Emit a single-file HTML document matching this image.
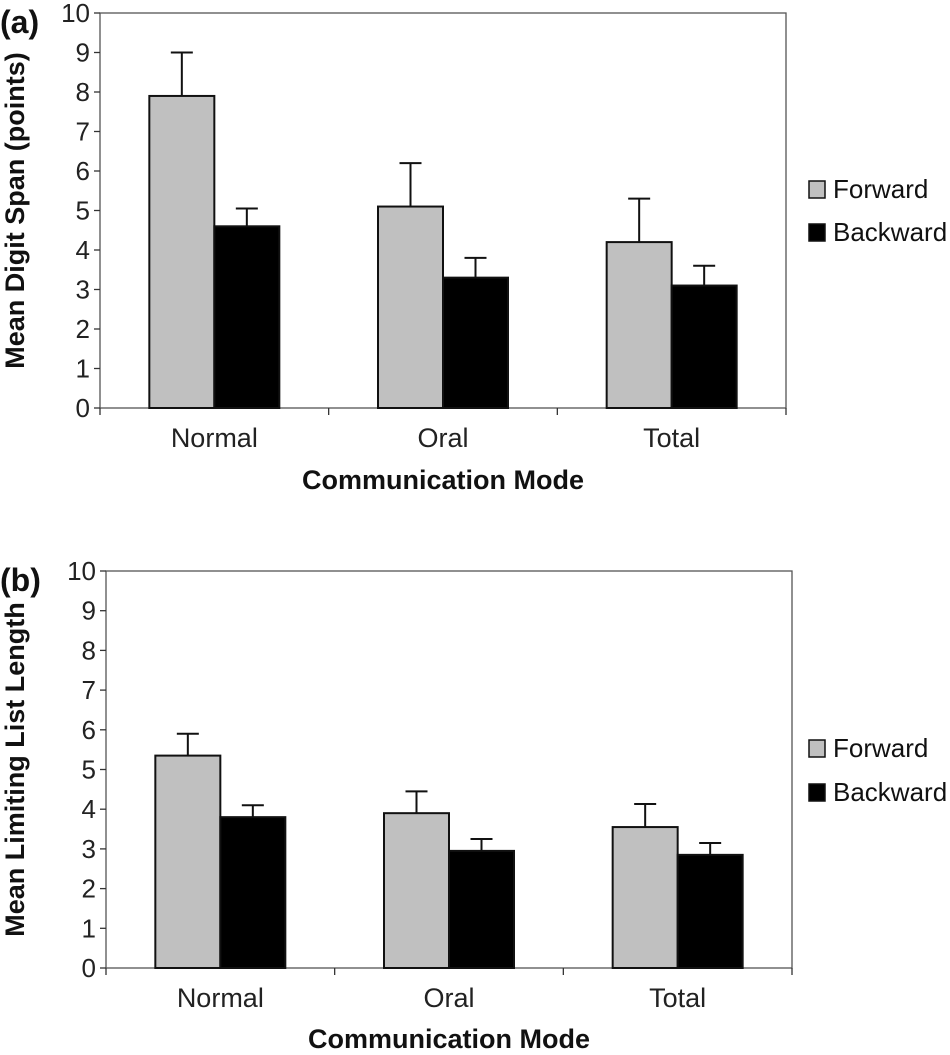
<!DOCTYPE html>
<html><head><meta charset="utf-8"><style>
body{margin:0;background:#fff;width:950px;height:1050px;overflow:hidden}
text{font-family:"Liberation Sans",Arial,sans-serif}
</style></head><body>
<svg id="svg" width="950" height="1050"></svg>
<script>
const categories=["Normal","Oral","Total"];
const seriesNames=["Forward","Backward"];
const aForward=[7.9,5.1,4.2];
const aForwardErr=[1.1,1.1,1.1];
const aBackward=[4.6,3.3,3.1];
const aBackwardErr=[0.45,0.5,0.5];
const bForward=[5.35,3.9,3.55];
const bForwardErr=[0.55,0.55,0.58];
const bBackward=[3.8,2.95,2.85];
const bBackwardErr=[0.3,0.3,0.3];
const yTicks=[0,1,2,3,4,5,6,7,8,9,10];

const NS="http://www.w3.org/2000/svg";
const svg=document.getElementById('svg');
function el(tag,attrs,parent,text){const e=document.createElementNS(NS,tag);for(const k in attrs)e.setAttribute(k,attrs[k]);if(text!==undefined)e.textContent=text;(parent||svg).appendChild(e);return e;}

function panel(p){
  const g=el('g',{});
  
  
  const yS=v=>p.y0-(v/10)*(p.y0-p.y10);
  const cw=(p.right-p.left)/categories.length;
  const xC=i=>p.left+cw*(i+0.5);
  const bw=65;
  const fr=el('rect',{x:p.left,y:p.y10,width:p.right-p.left,height:p.y0-p.y10,fill:'none',stroke:'#555','stroke-width':1.3},g);
  
  
  yTicks.forEach(t=>{
    const y=yS(t);
    el('line',{x1:p.left-6,x2:p.left,y1:y,y2:y,stroke:'#333','stroke-width':1.3},g);
    const tx=el('text',{x:p.left-10,y:y+9,'text-anchor':'end','font-size':26,fill:'#222'},g,t);
    
    
  });
  for(let i=0;i<=categories.length;i++){const x=p.left+cw*i;el('line',{x1:x,x2:x,y1:p.y0,y2:p.y0+7,stroke:'#333','stroke-width':1.3},g);}
  const series=[[p.f,p.fe,'#c0c0c0'],[p.b,p.be,'#000']];
  categories.forEach((c,i)=>{
    series.forEach((s,j)=>{
      const v=s[0][i],e=s[1][i];
      const x=xC(i)-bw+j*bw;
      const r=el('rect',{x:x,y:yS(v),width:bw,height:yS(0)-yS(v),fill:s[2],stroke:'#111','stroke-width':2},g);
      
      
      const cx=x+bw/2;
      const eb=el('path',{d:`M${cx},${yS(v)} V${yS(v+e)} M${cx-11},${yS(v+e)} H${cx+11}`,stroke:'#111','stroke-width':2,fill:'none'},g);
      
      
    });
    const cl=el('text',{x:xC(i),y:p.y0+39,'text-anchor':'middle','font-size':27,fill:'#222'},g,c);
    
    
  });
  const xt=el('text',{x:(p.left+p.right)/2,y:p.xTitleY,'text-anchor':'middle','font-size':27,'font-weight':'bold',fill:'#111'},g,'Communication Mode');
  
  
  const cy=(p.y0+p.y10)/2;
  const yt=el('text',{x:0,y:0,transform:`translate(${p.yTitleX},${cy}) rotate(-90)`,'text-anchor':'middle','font-size':27,'font-weight':'bold',fill:'#111'},g,p.yTitle);
  
  
  const lb=el('text',{x:0,y:p.y10+20,'font-size':32,'font-weight':'bold','font-family':'Liberation Serif',fill:'#111'},g,p.label);
  
  
  [['#c0c0c0',p.legY[0]],['#000',p.legY[1]]].forEach((l,j)=>{
    const lg=el('g',{},g);
    
    
    el('rect',{x:809,y:l[1]-8,width:16,height:17,fill:l[0],stroke:'#111','stroke-width':1.5},lg);
    el('text',{x:833,y:l[1]+9,'font-size':26,fill:'#111'},lg,seriesNames[j]);
  });
}
panel({id:'a',label:'(a)',left:100,right:786,y0:408,y10:13,f:aForward,fe:aForwardErr,b:aBackward,be:aBackwardErr,yTitle:'Mean Digit Span (points)',yTitleX:24,xTitleY:489,legY:[189,232]});
panel({id:'b',label:'(b)',left:106,right:792,y0:968,y10:571,f:bForward,fe:bForwardErr,b:bBackward,be:bBackwardErr,yTitle:'Mean Limiting List Length',yTitleX:24,xTitleY:1048,legY:[748,792]});
</script>
</body></html>
